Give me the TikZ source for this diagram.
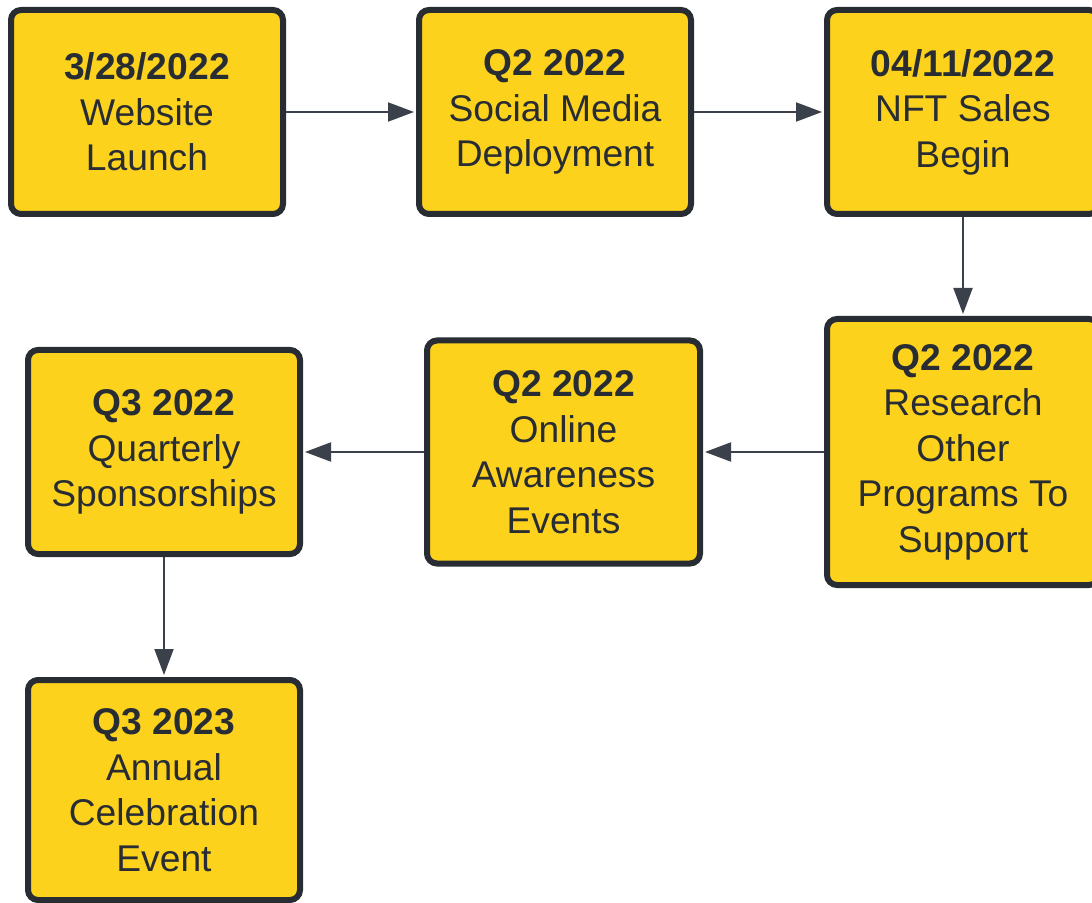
\documentclass[tikz,border=0pt]{standalone}
\usepackage{fontspec}
\setmainfont{Liberation Sans}
\usetikzlibrary{arrows.meta}
\definecolor{rumena}{HTML}{FCD21D}
\definecolor{obroba}{HTML}{282C33}
\definecolor{puscica}{HTML}{3A414A}

\begin{document}
\begin{tikzpicture}[x=0.5pt,y=-0.5pt,
  box/.style={draw=obroba,fill=rumena,line width=3pt,rounded corners=5pt,
    minimum width=136pt,minimum height=102pt,inner sep=0pt,align=center,
    text=obroba,font=\fontsize{18.6}{22.75}\selectfont},
  arr/.style={draw=puscica,line width=1pt,
    -{Triangle[length=13pt,width=9.5pt]},shorten >=1pt}]
\useasboundingbox (0,0) rectangle (1092,903);

%zgornja vrsta
\node[box] (launch) at (147,112) {\textbf{3/28/2022}\\Website\\Launch};
\node[box] (social) at (555,112) {\textbf{Q2 2022}\\Social Media\\Deployment};
\node[box] (nft) at (963,112) {\textbf{04/11/2022}\\NFT Sales\\Begin};

%srednja vrsta
\node[box,minimum height=133pt] (research) at (963,452)
  {\textbf{Q2 2022}\\Research\\Other\\Programs To\\Support};
\node[box,minimum width=136.5pt,minimum height=111.5pt] (online) at (563.5,452)
  {\textbf{Q2 2022}\\Online\\Awareness\\Events};
\node[box] (quarterly) at (164,452) {\textbf{Q3 2022}\\Quarterly\\Sponsorships};

%spodaj
\node[box,minimum height=110pt] (annual) at (164,790)
  {\textbf{Q3 2023}\\Annual\\Celebration\\Event};

%puscice
\draw[arr] (launch) -- (social);
\draw[arr] (social) -- (nft);
\draw[arr] (nft) -- (research);
\draw[arr] (research) -- (online);
\draw[arr] (online) -- (quarterly);
\draw[arr] (quarterly) -- (annual);

\end{tikzpicture}
\end{document}
